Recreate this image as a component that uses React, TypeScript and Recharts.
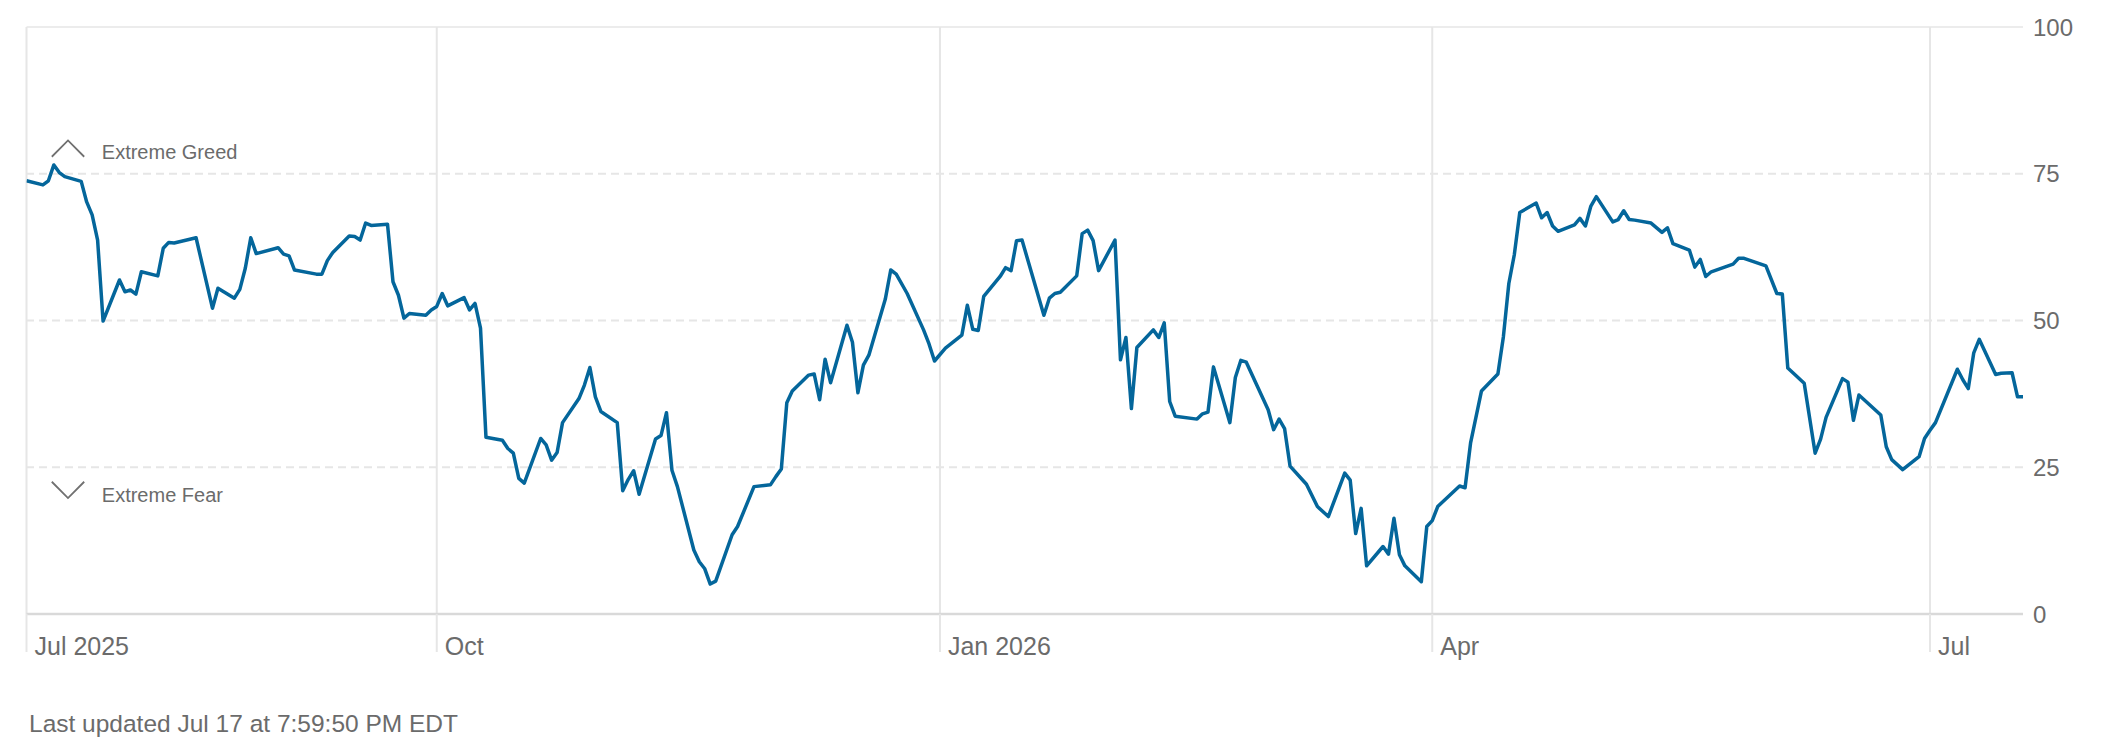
import React from 'react';
import { LineChart, Line, XAxis, YAxis, ReferenceLine } from 'recharts';

// Fear & Greed index, one reading per trading day (vertices)
const dates = [
  '2025-07-18', '2025-07-21', '2025-07-22', '2025-07-23', '2025-07-24', '2025-07-25', '2025-07-28', '2025-07-29',
  '2025-07-30', '2025-07-31', '2025-08-01', '2025-08-04', '2025-08-05', '2025-08-06', '2025-08-07', '2025-08-08',
  '2025-08-11', '2025-08-12', '2025-08-13', '2025-08-14', '2025-08-18', '2025-08-21', '2025-08-22', '2025-08-25',
  '2025-08-26', '2025-08-27', '2025-08-28', '2025-08-29', '2025-09-02', '2025-09-03', '2025-09-04', '2025-09-05',
  '2025-09-09', '2025-09-10', '2025-09-11', '2025-09-12', '2025-09-15', '2025-09-16', '2025-09-17', '2025-09-18',
  '2025-09-19', '2025-09-22', '2025-09-23', '2025-09-24', '2025-09-25', '2025-09-26', '2025-09-29', '2025-09-30',
  '2025-10-01', '2025-10-02', '2025-10-03', '2025-10-06', '2025-10-07', '2025-10-08', '2025-10-09', '2025-10-10',
  '2025-10-13', '2025-10-14', '2025-10-15', '2025-10-16', '2025-10-17', '2025-10-20', '2025-10-21', '2025-10-22',
  '2025-10-23', '2025-10-24', '2025-10-27', '2025-10-28', '2025-10-29', '2025-10-30', '2025-10-31', '2025-11-03',
  '2025-11-04', '2025-11-05', '2025-11-06', '2025-11-07', '2025-11-10', '2025-11-11', '2025-11-12', '2025-11-13',
  '2025-11-14', '2025-11-17', '2025-11-18', '2025-11-19', '2025-11-20', '2025-11-21', '2025-11-24', '2025-11-25',
  '2025-11-28', '2025-12-01', '2025-12-02', '2025-12-03', '2025-12-04', '2025-12-05', '2025-12-08', '2025-12-09',
  '2025-12-10', '2025-12-11', '2025-12-12', '2025-12-15', '2025-12-16', '2025-12-17', '2025-12-18', '2025-12-19',
  '2025-12-22', '2025-12-23', '2025-12-24', '2025-12-26', '2025-12-29', '2025-12-30', '2025-12-31', '2026-01-02',
  '2026-01-05', '2026-01-06', '2026-01-07', '2026-01-08', '2026-01-09', '2026-01-12', '2026-01-13', '2026-01-14',
  '2026-01-15', '2026-01-16', '2026-01-20', '2026-01-21', '2026-01-22', '2026-01-23', '2026-01-26', '2026-01-27',
  '2026-01-28', '2026-01-29', '2026-01-30', '2026-02-02', '2026-02-03', '2026-02-04', '2026-02-05', '2026-02-06',
  '2026-02-09', '2026-02-10', '2026-02-11', '2026-02-12', '2026-02-13', '2026-02-17', '2026-02-18', '2026-02-19',
  '2026-02-20', '2026-02-23', '2026-02-24', '2026-02-25', '2026-02-26', '2026-03-02', '2026-03-03', '2026-03-04',
  '2026-03-05', '2026-03-06', '2026-03-09', '2026-03-11', '2026-03-13', '2026-03-16', '2026-03-17', '2026-03-18',
  '2026-03-19', '2026-03-20', '2026-03-23', '2026-03-24', '2026-03-25', '2026-03-26', '2026-03-27', '2026-03-30',
  '2026-03-31', '2026-04-01', '2026-04-02', '2026-04-06', '2026-04-07', '2026-04-08', '2026-04-10', '2026-04-13',
  '2026-04-14', '2026-04-15', '2026-04-16', '2026-04-17', '2026-04-20', '2026-04-21', '2026-04-22', '2026-04-23',
  '2026-04-24', '2026-04-27', '2026-04-28', '2026-04-29', '2026-04-30', '2026-05-01', '2026-05-04', '2026-05-05',
  '2026-05-06', '2026-05-07', '2026-05-08', '2026-05-11', '2026-05-13', '2026-05-14', '2026-05-15', '2026-05-18',
  '2026-05-19', '2026-05-20', '2026-05-21', '2026-05-22', '2026-05-26', '2026-05-27', '2026-05-28', '2026-06-01',
  '2026-06-03', '2026-06-04', '2026-06-05', '2026-06-08', '2026-06-10', '2026-06-11', '2026-06-12', '2026-06-15',
  '2026-06-16', '2026-06-17', '2026-06-18', '2026-06-22', '2026-06-23', '2026-06-24', '2026-06-26', '2026-06-29',
  '2026-06-30', '2026-07-01', '2026-07-02', '2026-07-06', '2026-07-07', '2026-07-08', '2026-07-09', '2026-07-10',
  '2026-07-13', '2026-07-14', '2026-07-16', '2026-07-17', '2026-07-18',
];

const scores = [
  73.8, 73.1, 73.8, 76.5, 75.2, 74.5, 73.7, 70.2,
  68.0, 63.7, 49.9, 56.9, 54.9, 55.2, 54.5, 58.3,
  57.6, 62.3, 63.3, 63.2, 64.1, 52.1, 55.5, 53.8,
  55.3, 58.9, 64.1, 61.4, 62.4, 61.3, 61.0, 58.6,
  57.9, 57.9, 60.2, 61.6, 64.4, 64.3, 63.7, 66.6,
  66.2, 66.4, 56.6, 54.3, 50.4, 51.2, 50.9, 51.8,
  52.4, 54.6, 52.5, 53.9, 51.8, 52.9, 48.7, 30.1,
  29.6, 28.2, 27.4, 23.1, 22.3, 29.9, 28.8, 26.2,
  27.5, 32.6, 36.7, 39.0, 42.0, 37.0, 34.5, 32.6,
  21.0, 22.9, 24.4, 20.4, 29.8, 30.4, 34.3, 24.5,
  21.7, 10.9, 8.9, 7.7, 5.1, 5.6, 13.5, 14.9,
  21.7, 22.0, 23.4, 24.7, 36.0, 38.0, 40.7, 40.9,
  36.5, 43.4, 39.4, 49.2, 46.3, 37.7, 42.4, 44.1,
  53.6, 58.6, 57.9, 54.6, 48.4, 46.0, 43.1, 45.3,
  47.5, 52.6, 48.5, 48.3, 54.1, 57.5, 59.0, 58.5,
  63.6, 63.7, 50.9, 53.8, 54.6, 54.8, 57.6, 64.8,
  65.4, 63.6, 58.5, 63.7, 43.3, 47.1, 35.0, 45.4,
  48.4, 47.1, 49.6, 36.2, 33.7, 33.2, 34.1, 34.4,
  42.1, 32.6, 40.3, 43.2, 42.9, 34.8, 31.4, 33.2,
  31.6, 25.2, 22.1, 18.3, 16.6, 24.0, 22.8, 13.7,
  18.0, 8.2, 11.5, 10.2, 16.3, 10.1, 8.2, 5.5,
  14.9, 15.9, 18.3, 21.8, 21.5, 29.1, 38.0, 40.9,
  47.2, 56.3, 61.2, 68.4, 70.0, 67.5, 68.4, 66.1,
  65.2, 66.3, 67.4, 66.1, 69.5, 71.1, 66.8, 67.2,
  68.7, 67.2, 67.1, 66.6, 65.0, 65.8, 63.1, 62.0,
  59.1, 60.4, 57.5, 58.3, 59.6, 60.6, 60.6, 59.3,
  54.6, 54.5, 41.9, 39.3, 27.4, 29.8, 33.5, 40.1,
  39.5, 33.0, 37.3, 33.9, 28.5, 26.3, 24.6, 26.8,
  29.9, 31.3, 32.6, 41.7, 39.9, 38.4, 44.5, 46.8,
  40.8, 41.0, 41.1, 37.0, 37.0,
];

const rangeStart = '2025-07-18';
const rangeEnd = '2026-07-18';
const tickDates = ['2025-07-18', '2025-10-01', '2026-01-01', '2026-04-01', '2026-07-01'];
const tickLabels = ['Jul 2025', 'Oct', 'Jan 2026', 'Apr', 'Jul'];
const yTicks = [0, 25, 50, 75, 100];
const lastUpdated = 'Last updated Jul 17 at 7:59:50 PM EDT';

const FONT = '"Liberation Sans", Arial, Helvetica, sans-serif';
const TEXT = '#6b6b6b';
const GRID = '#e6e6e6';
const LINE = '#04669b';

const toTime = (d: string) => Date.parse(d + 'T00:00:00Z');
const tickTimes = tickDates.map(toTime);
const data = dates.map((d, i) => ({ t: toTime(d), score: scores[i] }));

function MonthTick({ x, y, payload }: any) {
  const i = tickTimes.indexOf(payload.value);
  return (
    <g>
      <line x1={x} x2={x} y1={y} y2={y + 38} stroke={GRID} strokeWidth={2} />
      <text x={x + 8} y={y + 41} fontSize={25} fill={TEXT} fontFamily={FONT} textAnchor="start">
        {tickLabels[i]}
      </text>
    </g>
  );
}

function GreedLabel({ viewBox }: any) {
  const { x, y } = viewBox;
  return (
    <g>
      <polyline
        points={`${x + 25.3},${y - 17} ${x + 41.5},${y - 33.3} ${x + 57.7},${y - 17}`}
        fill="none"
        stroke="#707070"
        strokeWidth={1.8}
      />
      <text x={x + 75.3} y={y - 14.5} fontSize={20} fill={TEXT} fontFamily={FONT}>
        Extreme Greed
      </text>
    </g>
  );
}

function FearLabel({ viewBox }: any) {
  const { x, y } = viewBox;
  return (
    <g>
      <polyline
        points={`${x + 25.3},${y + 14.5} ${x + 41.5},${y + 30.8} ${x + 57.7},${y + 14.5}`}
        fill="none"
        stroke="#707070"
        strokeWidth={1.8}
      />
      <text x={x + 75.3} y={y + 34.3} fontSize={20} fill={TEXT} fontFamily={FONT}>
        Extreme Fear
      </text>
    </g>
  );
}

export default function App() {
  return (
    <div style={{ width: 2086, fontFamily: FONT }}>
      <LineChart width={2086} height={660} data={data} margin={{ top: 19, right: 0, bottom: 0, left: 18.5 }}>
        {tickTimes.map((t) => (
          <ReferenceLine key={t} x={t} stroke={GRID} strokeWidth={2} />
        ))}
        <ReferenceLine y={100} stroke={GRID} strokeWidth={1.5} />
        <ReferenceLine y={75} stroke={GRID} strokeWidth={2} strokeDasharray="8 5" label={<GreedLabel />} />
        <ReferenceLine y={50} stroke={GRID} strokeWidth={2} strokeDasharray="8 5" />
        <ReferenceLine y={25} stroke={GRID} strokeWidth={2} strokeDasharray="8 5" label={<FearLabel />} />
        <XAxis
          dataKey="t"
          type="number"
          domain={[toTime(rangeStart), toTime(rangeEnd)]}
          ticks={tickTimes}
          interval={0}
          height={54}
          tickSize={0}
          tickMargin={0}
          tickLine={false}
          axisLine={{ stroke: '#d9d9d9', strokeWidth: 2.5 }}
          tick={<MonthTick />}
          allowDataOverflow
        />
        <YAxis
          orientation="right"
          domain={[0, 100]}
          ticks={yTicks}
          width={71}
          tickSize={0}
          tickMargin={10}
          axisLine={false}
          tickLine={false}
          tick={{ fontSize: 24, fill: TEXT, fontFamily: FONT }}
        />
        <Line
          type="linear"
          dataKey="score"
          stroke={LINE}
          strokeWidth={3.5}
          strokeLinejoin="round"
          dot={false}
          activeDot={false}
          isAnimationActive={false}
        />
      </LineChart>
      <svg width={2086} height={80} style={{ display: 'block' }}>
        <text x={21} y={64} fontSize={24.5} fill={TEXT} fontFamily={FONT}>
          {lastUpdated}
        </text>
      </svg>
    </div>
  );
}
